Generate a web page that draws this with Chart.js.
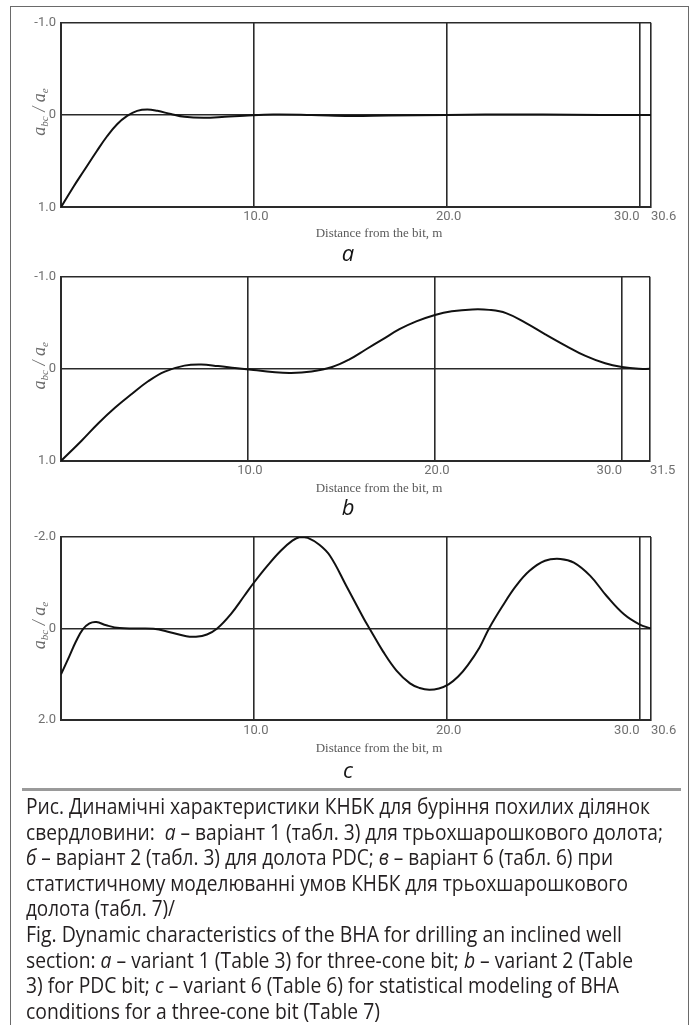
<!DOCTYPE html>
<html>
<head>
<meta charset="utf-8">
<script src="https://cdn.jsdelivr.net/npm/chart.js@4.4.1/dist/chart.umd.min.js"></script>
<style>
  body { margin: 0; background: #fff; width: 693px; height: 1025px; overflow: hidden; position: relative; }
  #frame { position: absolute; left: 10px; top: 6px; width: 677px; height: 1040px; border: 1.5px solid #6a6a6a; border-bottom: none; }
  .chart { position: absolute; left: 0; width: 693px; }
  #sep { position: absolute; left: 22px; top: 788px; width: 659px; height: 3px; background: #9a9a9a; }
  #caption { position: absolute; left: 26px; top: 794px; font-family: "Open Sans"; font-size: 21px; line-height: 25.6px;
             color: #231f20; white-space: nowrap; }
  #caption div { height: 25.6px; }
  #caption span { display: inline-block; transform-origin: 0 0; }
</style>
</head>
<body>
<div id="frame"></div>
<div class="chart" style="top:0px;height:268px"><canvas id="chartA"></canvas></div>
<div class="chart" style="top:262px;height:268px"><canvas id="chartB"></canvas></div>
<div class="chart" style="top:515px;height:270px"><canvas id="chartC"></canvas></div>
<div id="sep"></div>
<div id="caption">
  <div><span data-w="624">Рис. Динамічні характеристики КНБК для буріння похилих ділянок</span></div>
  <div><span data-w="637">свердловини:&nbsp; <i>а</i> – варіант 1 (табл. 3) для трьохшарошкового долота;</span></div>
  <div><span data-w="587"><i>б</i> – варіант 2 (табл. 3) для долота PDC; <i>в</i> – варіант 6 (табл. 6) при</span></div>
  <div><span data-w="602">статистичному моделюванні умов КНБК для трьохшарошкового</span></div>
  <div><span data-w="149">долота (табл. 7)/</span></div>
  <div><span data-w="596">Fig. Dynamic characteristics of the BHA for drilling an inclined well</span></div>
  <div><span data-w="607">section: <i>a</i> – variant 1 (Table 3) for three-cone bit; <i>b</i> – variant 2 (Table</span></div>
  <div><span data-w="593">3) for PDC bit; <i>c</i> – variant 6 (Table 6) for statistical modeling of BHA</span></div>
  <div><span data-w="354">conditions for a three-cone bit (Table 7)</span></div>
</div>

<script>
// a - variant 1, three-cone bit
const distA = [0, 0.64, 1.17, 1.86, 2.39, 2.91, 3.43, 3.95, 4.48, 5.0, 5.7, 6.4, 7.4, 8.5, 9.5, 11, 13, 15, 17, 20, 22, 25, 28, 30.6];
const valA = [1.0, 0.78, 0.61, 0.39, 0.23, 0.1, 0.01, -0.045, -0.06, -0.045, -0.01, 0.02, 0.03, 0.02, 0.008, -0.005, 0, 0.01, 0.005, 0, -0.005, -0.005, 0, 0];
const ticksA = [0, 10, 20, 30, 30.6];

// b - variant 2, PDC bit
const distB = [0, 1.1, 2.0, 2.9, 3.8, 4.66, 5.55, 6.6, 7.5, 8.4, 9.3, 10.3, 11.3, 12.3, 13.4, 14.5, 15.4, 16.3, 17.2, 18.1, 19.0, 20.0, 20.9, 22.0, 22.9, 23.8, 24.85, 25.9, 27.0, 28.05, 29.1, 30.0, 30.9, 31.5];
const valB = [1.0, 0.78, 0.59, 0.42, 0.27, 0.135, 0.03, -0.035, -0.047, -0.03, -0.01, 0.012, 0.035, 0.045, 0.028, -0.02, -0.1, -0.21, -0.32, -0.43, -0.515, -0.585, -0.625, -0.645, -0.64, -0.605, -0.5, -0.375, -0.25, -0.14, -0.06, -0.02, 0, 0];
const ticksB = [0, 10, 20, 30, 31.5];

// c - variant 6, statistical modeling
const distC = [0, 0.43, 0.78, 1.13, 1.48, 1.83, 2.35, 3.04, 3.9, 4.8, 5.65, 6.5, 7.0, 7.57, 8.1, 8.8, 9.5, 10.0, 10.7, 11.4, 12.0, 12.4, 12.8, 13.4, 13.95, 14.8, 15.7, 16.0, 16.7, 17.4, 18.1, 18.6, 19.1, 19.6, 20.1, 20.6, 21.1, 21.7, 22.2, 22.9, 23.6, 24.3, 25.1, 25.9, 26.6, 27.45, 28.3, 29.2, 30.0, 30.6];
const valC = [1.0, 0.61, 0.28, 0.02, -0.11, -0.14, -0.07, -0.01, 0, 0.007, 0.08, 0.17, 0.18, 0.13, 0, -0.31, -0.71, -1.0, -1.37, -1.7, -1.92, -2.0, -1.98, -1.83, -1.59, -0.93, -0.22, 0, 0.5, 0.92, 1.2, 1.3, 1.34, 1.31, 1.22, 1.05, 0.8, 0.42, 0, -0.49, -0.93, -1.26, -1.48, -1.52, -1.44, -1.15, -0.71, -0.31, -0.09, 0];
const ticksC = [0, 10, 20, 30, 30.6];

const axisText = {
    id: 'axisText',
    afterDraw(chart, args, o) {
        const { ctx, chartArea, scales } = chart;
        const bottom = chartArea.bottom;
        ctx.save();
        ctx.textBaseline = 'middle';

        // x tick labels (skip 0)
        ctx.font = '13px Roboto';
        ctx.fillStyle = '#707070';
        const n = o.ticks.length;
        o.ticks.forEach((v, i) => {
            if (v === 0) return;
            const px = scales.x.getPixelForValue(v);
            if (i === n - 1) { ctx.textAlign = 'left'; ctx.fillText(v.toFixed(1), px, bottom + o.tickGap); }
            else if (i === n - 2) { ctx.textAlign = 'right'; ctx.fillText(v.toFixed(1), px, bottom + o.tickGap); }
            else { ctx.textAlign = 'center'; ctx.fillText(v.toFixed(1), px + 2, bottom + o.tickGap); }
        });

        // x title
        ctx.font = '13px "Liberation Serif"';
        ctx.fillStyle = '#5a5a5a';
        ctx.textAlign = 'center';
        ctx.fillText('Distance from the bit, m', 379, bottom + o.titleGap);

        // panel letter
        ctx.font = 'italic 22px "Open Sans"';
        ctx.fillStyle = '#151515';
        ctx.fillText(o.letter, 348, bottom + o.letterGap);

        // y title, rotated, with subscripts
        const yc = scales.y.getPixelForValue(0) - 3;
        ctx.translate(40, yc);
        ctx.rotate(-Math.PI / 2);
        const parts = [['a', 0], ['bc', 1], [' / ', 0], ['a', 0], ['e', 1]];
        const main = 'italic 18px "Liberation Serif"', sub = 'italic 11px "Liberation Serif"';
        let w = 0;
        parts.forEach(p => { ctx.font = p[1] ? sub : main; w += ctx.measureText(p[0]).width; });
        let x = -w / 2;
        ctx.fillStyle = '#6a6a6a';
        ctx.textAlign = 'left';
        ctx.textBaseline = 'alphabetic';
        parts.forEach(p => {
            ctx.font = p[1] ? sub : main;
            ctx.fillText(p[0], x, p[1] ? 8 : 5);
            x += ctx.measureText(p[0]).width;
        });
        ctx.restore();
    }
};

function makeChart(id, dist, vals, xTicks, yLim, pad, text) {
    return new Chart(id, {
        type: 'line',
        data: {
            datasets: [{
                data: dist.map((d, i) => ({ x: d, y: vals[i] })),
                borderColor: '#111',
                borderWidth: 2,
                pointRadius: 0,
                fill: false,
                tension: 0.4
            }]
        },
        options: {
            responsive: true,
            maintainAspectRatio: false,
            animation: false,
            layout: { padding: pad },
            plugins: { legend: { display: false }, tooltip: { enabled: false }, axisText: text },
            scales: {
                x: {
                    type: 'linear',
                    min: 0,
                    max: xTicks[xTicks.length - 1],
                    afterBuildTicks: s => { s.ticks = xTicks.map(v => ({ value: v })); },
                    afterFit: s => { s.height = 0; },
                    ticks: { display: false },
                    grid: { color: '#2a2a2a', lineWidth: 1.6, drawTicks: false },
                    border: { display: true, color: '#2a2a2a', width: 2 }
                },
                y: {
                    reverse: true,
                    min: -yLim,
                    max: yLim,
                    afterBuildTicks: s => { s.ticks = [-yLim, 0, yLim].map(v => ({ value: v })); },
                    afterFit: s => { s.width = 61; },
                    ticks: {
                        padding: 5,
                        color: '#707070',
                        font: { family: 'Roboto', size: 13 },
                        callback: v => (v === 0 ? '0' : v.toFixed(1))
                    },
                    grid: { color: '#2a2a2a', lineWidth: 1.6, drawTicks: false },
                    border: { display: true, color: '#2a2a2a', width: 2 }
                }
            }
        },
        plugins: [axisText]
    });
}

makeChart('chartA', distA, valA, ticksA, 1,
    { left: 0, right: 42, top: 22.7, bottom: 60.7 },
    { ticks: ticksA, tickGap: 9, titleGap: 26, letterGap: 47, letter: 'a' });
makeChart('chartB', distB, valB, ticksB, 1,
    { left: 0, right: 43, top: 14.7, bottom: 69 },
    { ticks: ticksB, tickGap: 10, titleGap: 28, letterGap: 48, letter: 'b' });
makeChart('chartC', distC, valC, ticksC, 2,
    { left: 0, right: 42, top: 22, bottom: 65 },
    { ticks: ticksC, tickGap: 11, titleGap: 29, letterGap: 52, letter: 'c' });

// squeeze each caption line to the width it has in the original
const fit = () => {
    document.querySelectorAll('#caption span').forEach(s => {
        s.style.transform = 'none';
        const k = Number(s.dataset.w) / s.getBoundingClientRect().width;
        s.style.transform = 'scaleX(' + k + ')';
    });
};
if (document.fonts && document.fonts.ready) document.fonts.ready.then(fit);
fit();
</script>
</body>
</html>
